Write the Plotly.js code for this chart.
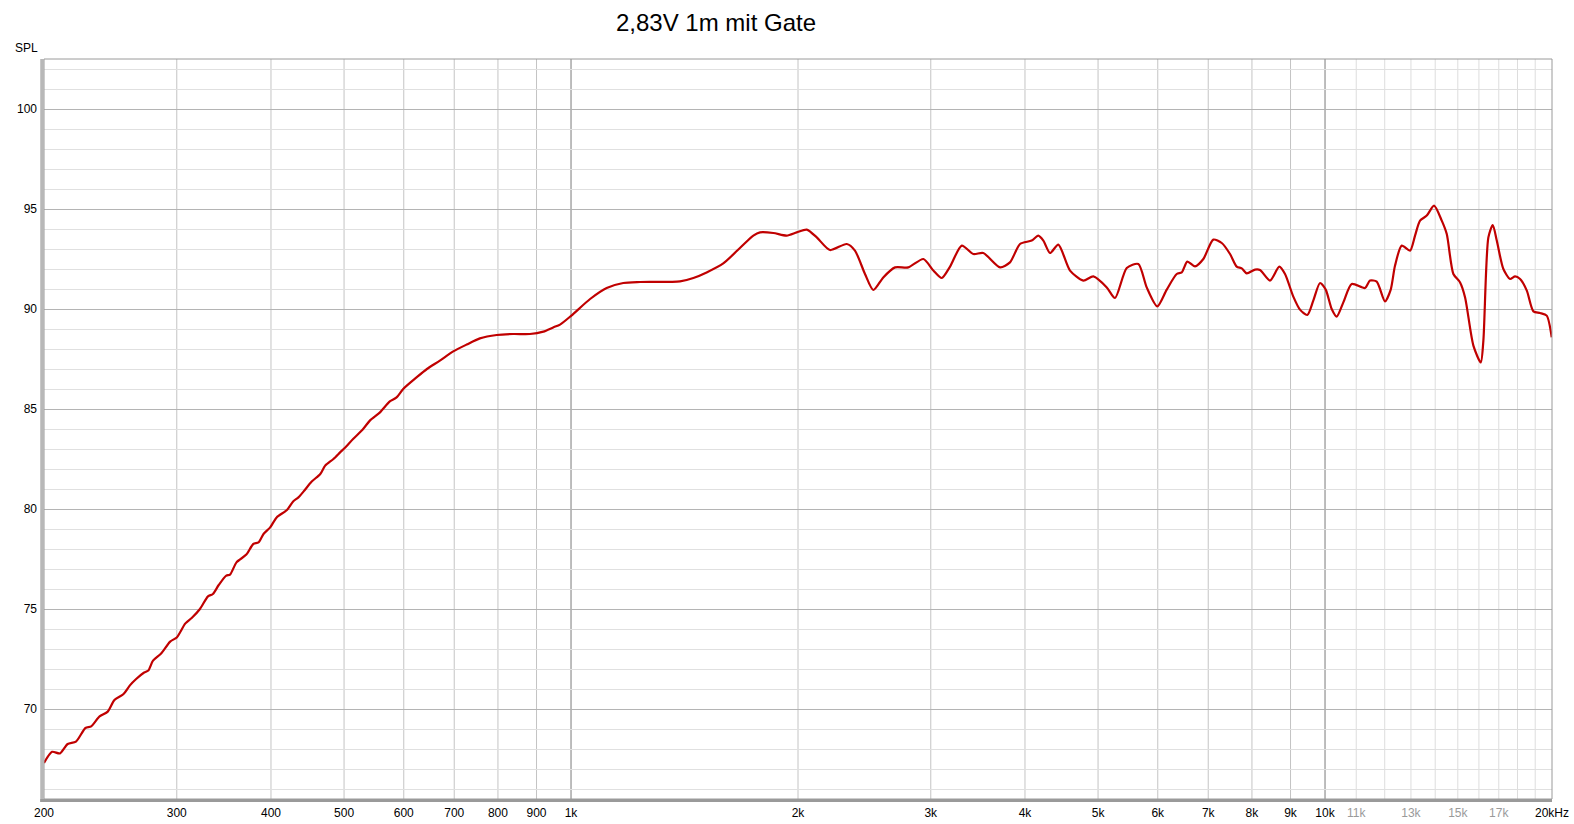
<!DOCTYPE html>
<html>
<head>
<meta charset="utf-8">
<script src="https://cdn.plot.ly/plotly-3.0.1.min.js"></script>
<style>
  html, body { margin: 0; padding: 0; background: #fff; }
  #chart { width: 1574px; height: 824px; }
</style>
</head>
<body>
<div id="chart"></div>
<script>
var freqHz = [
  200, 205, 210, 215, 220.5, 227, 231, 237, 243, 248, 255, 260, 265, 271, 275, 279, 286, 294,
  300, 308, 314, 322, 330, 335, 341, 349, 353, 360, 371, 379, 385, 391, 399, 407, 420, 428,
  435, 442, 453, 465, 472, 484, 494, 501, 514, 530, 541, 558, 575, 587, 599, 624, 644, 670,
  698, 727, 757, 797, 838, 882, 919, 947, 967, 1001, 1060, 1115, 1173, 1235, 1395, 1453,
  1513, 1592, 1675, 1745, 1781, 1855, 1932, 1992, 2054, 2118, 2205, 2321, 2380, 2454, 2517,
  2595, 2690, 2801, 2933, 3024, 3102, 3182, 3298, 3416, 3522, 3707, 3821, 3940, 4083, 4166,
  4231, 4318, 4429, 4590, 4780, 4929, 5135, 5266, 5458, 5654, 5801, 5992, 6167, 6358, 6456,
  6567, 6723, 6896, 7110, 7295, 7482, 7636, 7754, 7873, 8076, 8200, 8453, 8697, 8850, 9077,
  9264, 9473, 9648, 9848, 10021, 10206, 10364, 10575, 10850, 11299, 11473, 11710, 12011,
  12222, 12384, 12640, 12965, 13164, 13367, 13644, 13951, 14283, 14503, 14799, 15105, 15338,
  15731, 16090, 16219, 16468, 16691, 16896, 17240, 17597, 17868, 18143, 18519, 18896, 19286,
  19680, 19982
];
var splDb = [
  67.3, 67.86, 67.78, 68.25, 68.37, 69.05, 69.13, 69.63, 69.87, 70.45, 70.75, 71.18, 71.5, 71.8, 71.92, 72.42, 72.78, 73.37,
  73.58, 74.28, 74.55, 75.0, 75.63, 75.75, 76.2, 76.67, 76.72, 77.33, 77.72, 78.25, 78.33, 78.75, 79.08, 79.58, 79.95, 80.38,
  80.58, 80.88, 81.37, 81.75, 82.17, 82.5, 82.83, 83.05, 83.5, 84.0, 84.42, 84.83, 85.38, 85.58, 86.0, 86.58, 87.0, 87.42,
  87.88, 88.22, 88.53, 88.7, 88.75, 88.75, 88.87, 89.08, 89.22, 89.67, 90.5, 91.05, 91.3, 91.35, 91.38, 91.55,
  91.83, 92.28, 93.05, 93.67, 93.83, 93.8, 93.67, 93.83, 93.97, 93.58, 92.95, 93.25, 92.92, 91.75, 90.95,
  91.58, 92.08, 92.08, 92.5, 91.92, 91.55, 92.12, 93.17, 92.75, 92.8, 92.08, 92.33, 93.25, 93.42, 93.67,
  93.42, 92.8, 93.22, 91.92, 91.42, 91.63, 91.08, 90.55, 92.05, 92.25, 91.08, 90.13, 90.97, 91.75, 91.83,
  92.37, 92.13, 92.5, 93.47, 93.3, 92.75, 92.12, 92.03, 91.78, 91.97, 91.95, 91.42, 92.12, 91.75, 90.62,
  89.97, 89.7, 90.42, 91.3, 90.97, 90.0, 89.62, 90.33, 91.25, 91.05, 91.42, 91.37, 90.38,
  90.97, 92.17, 93.17, 92.92, 93.67, 94.42, 94.67, 95.17, 94.42, 93.75, 91.75, 91.33, 90.58,
  88.17, 87.33, 88.42, 93.58, 94.2, 93.42, 92.0, 91.5, 91.63, 91.5, 90.92, 89.88, 89.8,
  89.67, 88.58
];

// x axis ticks
var tickHz = [200, 300, 400, 500, 600, 700, 800, 900, 1000, 2000, 3000, 4000, 5000, 6000, 7000, 8000, 9000, 10000, 11000, 13000, 15000, 17000, 20000];
var tickText = ['200', '300', '400', '500', '600', '700', '800', '900', '1k', '2k', '3k', '4k', '5k', '6k', '7k', '8k', '9k', '10k',
  '<span style="color:#9a9a9a">11k</span>', '<span style="color:#9a9a9a">13k</span>',
  '<span style="color:#9a9a9a">15k</span>', '<span style="color:#9a9a9a">17k</span>', '20kHz'];
var gridHz = [300, 400, 500, 600, 700, 800, 900, 2000, 3000, 4000, 5000, 6000, 7000, 8000, 9000];
var lightGridHz = [11000, 12000, 13000, 14000, 15000, 16000, 17000, 18000, 19000];
var decadeHz = [1000, 10000];

var shapes = [];

function vline(f, color) {
  shapes.push({type: 'line', xref: 'x', yref: 'paper', x0: f, x1: f, y0: 0, y1: 1,
    line: {color: color, width: 1}, layer: 'below'});
}

for (var i in lightGridHz) vline(lightGridHz[i], '#dddddd');
for (var i in gridHz) vline(gridHz[i], '#c4c4c4');
for (var i in decadeHz) vline(decadeHz[i], '#7a7a7a');

// frame with the shadowed left / bottom edge
shapes.push({type: 'rect', xref: 'paper', yref: 'paper', x0: 0, x1: 1, y0: 0, y1: 1,
  line: {color: '#9a9a9a', width: 1}});
shapes.push({type: 'rect', xref: 'paper', yref: 'paper', x0: -0.0025, x1: 0, y0: -0.004, y1: 1,
  fillcolor: '#b8b8b8', line: {width: 0}});
shapes.push({type: 'rect', xref: 'paper', yref: 'paper', x0: -0.0025, x1: 1, y0: -0.004, y1: 0,
  fillcolor: '#9a9a9a', line: {width: 0}});

var trace = {
  x: freqHz,
  y: splDb,
  type: 'scatter',
  mode: 'lines',
  line: {color: '#c00000', width: 2.2, shape: 'spline', smoothing: 0.7},
  hoverinfo: 'skip'
};

var layout = {
  width: 1574,
  height: 824,
  margin: {l: 44, r: 22, t: 59, b: 25},
  paper_bgcolor: '#ffffff',
  plot_bgcolor: '#ffffff',
  showlegend: false,
  font: {family: 'Liberation Sans, Arial, sans-serif', size: 12, color: '#000'},
  title: {
    text: '2,83V 1m mit Gate',
    font: {family: 'Liberation Sans, Arial, sans-serif', size: 24, color: '#000'},
    xref: 'container', yref: 'container',
    x: 716 / 1574, y: 1 - 23 / 824,
    xanchor: 'center', yanchor: 'middle'
  },
  xaxis: {
    type: 'log',
    range: [Math.log10(200), Math.log10(20000)],
    tickmode: 'array',
    tickvals: tickHz,
    ticktext: tickText,
    showgrid: false,
    zeroline: false,
    showline: false,
    ticks: '',
    ticklen: 0,
    ticklabelstandoff: 5,
    tickfont: {size: 12},
    fixedrange: true
  },
  yaxis: {
    range: [65.5, 102.5],
    tick0: 0,
    dtick: 5,
    showgrid: true,
    gridcolor: '#b4b4b4',
    gridwidth: 1,
    minor: {dtick: 1, tick0: 0, showgrid: true, gridcolor: '#e0e0e0', gridwidth: 1},
    zeroline: false,
    showline: false,
    ticks: '',
    ticklen: 0,
    ticklabelstandoff: 6,
    tickfont: {size: 12},
    fixedrange: true
  },
  shapes: shapes,
  annotations: [{
    text: 'SPL', xref: 'paper', yref: 'paper', x: -0.0113, y: (799 - 48) / 740,
    xanchor: 'center', yanchor: 'middle', showarrow: false,
    font: {size: 12, color: '#000'}
  }]
};

Plotly.newPlot('chart', [trace], layout, {displayModeBar: false, staticPlot: true});
</script>
</body>
</html>
